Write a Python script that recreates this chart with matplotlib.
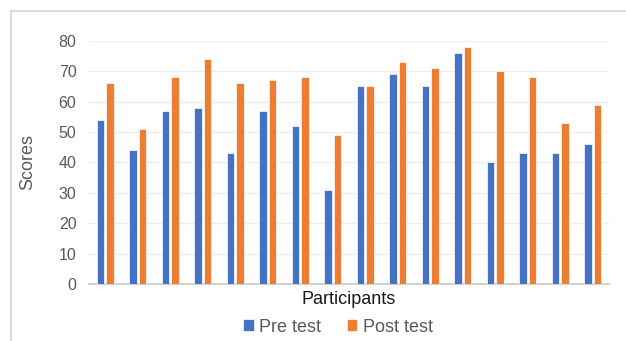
import matplotlib.pyplot as plt
import numpy as np
from matplotlib.lines import Line2D

plt.rcParams['font.family'] = ['Liberation Sans', 'DejaVu Sans']

pre_test = [54, 44, 57, 58, 43, 57, 52, 31, 65, 69, 65, 76, 40, 43, 43, 46]
post_test = [66, 51, 68, 74, 66, 67, 68, 49, 65, 73, 71, 78, 70, 68, 53, 59]
y_ticks = [0, 10, 20, 30, 40, 50, 60, 70, 80]

blue = '#4472C4'
orange = '#ED7D31'
grey = '#595959'

fig = plt.figure(figsize=(6.26, 3.41), dpi=100)
ax = fig.add_axes([89 / 626, 57 / 341, 520 / 626, 243.3 / 341])

x = np.arange(len(pre_test))
w = 0.235
ax.bar(x - 0.143, pre_test, w, color=blue, edgecolor='white', linewidth=0.5, label='Pre test', zorder=3)
ax.bar(x + 0.143, post_test, w, color=orange, edgecolor='white', linewidth=0.5, label='Post test', zorder=3)

ax.set_xlim(-0.5, len(pre_test) - 0.5)
ax.set_ylim(0, 80)
ax.set_yticks(y_ticks)
ax.set_xticks([])
ax.tick_params(axis='y', length=0, labelsize=11.5, labelcolor=grey, pad=9)
ax.grid(axis='y', color='#EDEDED', linewidth=0.9, zorder=0)
for s in ['top', 'right', 'left']:
    ax.spines[s].set_visible(False)
ax.spines['bottom'].set_color('#C8C8C8')
ax.spines['bottom'].set_linewidth(1.2)

fig.text(28 / 626, 0.5 * (57 + 300.3) / 341, 'Scores', rotation=90, ha='center', va='center',
         fontsize=13, color=grey)
fig.text(349 / 626, 1 - 299 / 341, 'Participants', ha='center', va='center', fontsize=13, color='#1a1a1a')

fig.legend(loc='center', bbox_to_anchor=(338 / 626, 1 - 327 / 341), ncol=2, frameon=False,
           fontsize=13, labelcolor=grey, handlelength=0.6, handleheight=0.6,
           handletextpad=0.3, columnspacing=1.4)

# outer chart border (cropped at right and bottom)
fig.add_artist(Line2D([10.5 / 626, 10.5 / 626], [0, 1 - 11 / 341], transform=fig.transFigure,
                      color='#D9D9D9', linewidth=1.3))
fig.add_artist(Line2D([10.5 / 626, 1], [1 - 11 / 341, 1 - 11 / 341], transform=fig.transFigure,
                      color='#D9D9D9', linewidth=1.3))

fig.savefig('out.png', dpi=100)
